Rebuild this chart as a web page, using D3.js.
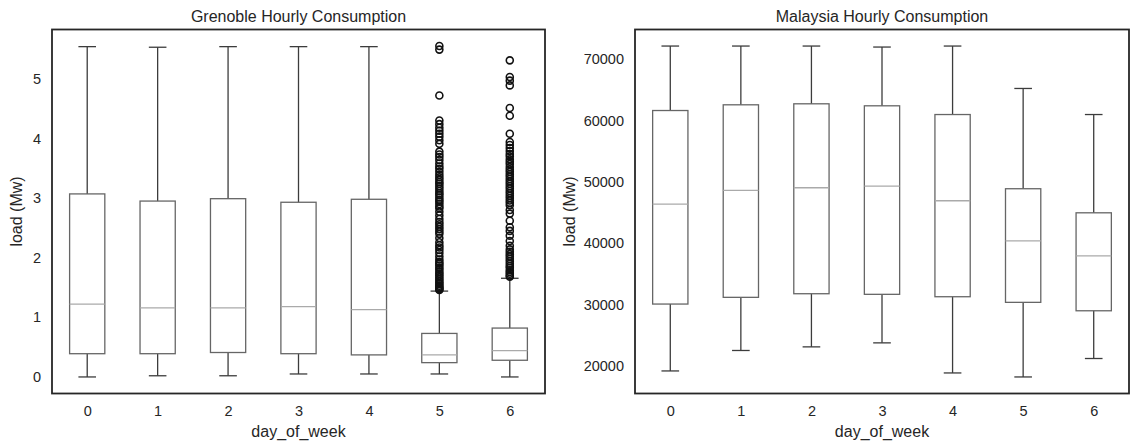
<!DOCTYPE html>
<html>
<head>
<meta charset="utf-8">
<script src="https://cdn.jsdelivr.net/npm/d3@7"></script>
<style>
  body { margin: 0; background: #fff; }
  text { font-family: "Liberation Sans", Arial, sans-serif; fill: #262626; }
</style>
</head>
<body>
<div id="chart"></div>
<script>
// box stats per day of week
var days = ["0", "1", "2", "3", "4", "5", "6"];

var grenobleLow    = [0.00, 0.02, 0.02, 0.05, 0.05, 0.05, 0.00];
var grenobleQ1     = [0.39, 0.39, 0.41, 0.39, 0.37, 0.24, 0.28];
var grenobleMedian = [1.22, 1.16, 1.16, 1.18, 1.13, 0.37, 0.44];
var grenobleQ3     = [3.07, 2.95, 2.99, 2.93, 2.98, 0.73, 0.82];
var grenobleHigh   = [5.54, 5.53, 5.54, 5.54, 5.54, 1.44, 1.655];

var grenobleOutliers5 = [5.55, 5.49, 4.72, 4.30, 4.24, 4.18, 4.13, 4.08, 4.03, 3.97, 3.91,
  3.78, 3.73, 3.69, 3.64, 3.58, 3.53, 3.49, 3.44, 3.39, 3.35, 3.31, 3.27, 3.24, 3.20,
  3.16, 3.12, 3.08, 3.05, 3.01, 2.97, 2.94, 2.90, 2.86, 2.83, 2.77, 2.71, 2.65, 2.60,
  2.56, 2.52, 2.48, 2.44, 2.40, 2.33, 2.26, 2.21, 2.17, 2.13, 2.08, 2.02, 1.97, 1.93,
  1.90, 1.87, 1.83, 1.80, 1.76, 1.73, 1.70, 1.67, 1.64, 1.61, 1.58, 1.56, 1.53, 1.51,
  1.49, 1.47, 1.46];
var grenobleOutliers6 = [5.31, 5.03, 4.97, 4.89, 4.51, 4.38, 4.08, 3.94, 3.89, 3.84,
  3.79, 3.74, 3.70, 3.65, 3.61, 3.57, 3.52, 3.48, 3.44, 3.40, 3.36, 3.32, 3.28, 3.24,
  3.20, 3.16, 3.12, 3.08, 3.04, 3.00, 2.96, 2.92, 2.88, 2.80, 2.74, 2.62, 2.51, 2.45,
  2.37, 2.28, 2.20, 2.14, 2.10, 2.06, 2.02, 1.98, 1.94, 1.90, 1.86, 1.83, 1.79, 1.76,
  1.73, 1.70, 1.68];

var malaysiaLow    = [19183, 22516, 23105, 23758, 18856, 18203, 21209];
var malaysiaQ1     = [30082, 31176, 31765, 31667, 31275, 30360, 28987];
var malaysiaMedian = [46373, 48595, 49036, 49314, 46912, 40376, 37925];
var malaysiaQ3     = [61618, 62549, 62712, 62386, 60964, 48873, 44951];
var malaysiaHigh   = [72124, 72124, 72124, 71961, 72124, 65212, 60964];

var grenobleTicks = [0, 1, 2, 3, 4, 5];
var malaysiaTicks = [20000, 30000, 40000, 50000, 60000, 70000];

var svgWidth = 1135;
var svgHeight = 441;

var svg = d3.select("#chart")
  .append("svg")
  .attr("width", svgWidth)
  .attr("height", svgHeight);

function buildBoxes(low, q1, med, q3, high, outliers) {
  return days.map(function(d, i) {
    return { day: d, low: low[i], q1: q1[i], med: med[i], q3: q3[i], high: high[i],
             outliers: outliers[d] || [] };
  });
}

function drawPanel(opts) {
  var left = opts.left, right = opts.right, top = 29.5, bottom = 393.5;
  var g = svg.append("g");

  // y domain with 5% margin, the way matplotlib pads it
  var allVals = [];
  opts.boxes.forEach(function(b) {
    allVals.push(b.low, b.high);
    b.outliers.forEach(function(v) { allVals.push(v); });
  });
  var lo = d3.min(allVals), hi = d3.max(allVals);
  var pad = (hi - lo) * 0.05;

  var x = d3.scalePoint().domain(days).range([left, right]).padding(0.5);
  var y = d3.scaleLinear().domain([lo - pad, hi + pad]).range([bottom, top]);
  var step = x.step();
  var boxW = step * 0.5;
  var capW = step * 0.25;

  // axes (no tick marks in this style)
  var yAxis = g.append("g")
    .attr("transform", "translate(" + left + ",0)")
    .call(d3.axisLeft(y).tickValues(opts.ticks).tickSize(0).tickPadding(11).tickFormat(d3.format("d")));
  yAxis.select(".domain").remove();
  yAxis.selectAll("text").style("font-size", "14.5px").attr("fill", "#262626");

  var xAxis = g.append("g")
    .attr("transform", "translate(0," + bottom + ")")
    .call(d3.axisBottom(x).tickSize(0).tickPadding(12));
  xAxis.select(".domain").remove();
  xAxis.selectAll("text").style("font-size", "14.5px").attr("fill", "#262626");

  var boxes = g.selectAll(".box")
    .data(opts.boxes)
    .enter()
    .append("g");

  // whiskers
  boxes.append("line")
    .attr("x1", d => x(d.day)).attr("x2", d => x(d.day))
    .attr("y1", d => y(d.q3)).attr("y2", d => y(d.high))
    .attr("stroke", "#3c3c3c").attr("stroke-width", 1.3);
  boxes.append("line")
    .attr("x1", d => x(d.day)).attr("x2", d => x(d.day))
    .attr("y1", d => y(d.q1)).attr("y2", d => y(d.low))
    .attr("stroke", "#3c3c3c").attr("stroke-width", 1.3);

  // caps
  boxes.append("line")
    .attr("x1", d => x(d.day) - capW / 2).attr("x2", d => x(d.day) + capW / 2)
    .attr("y1", d => y(d.high)).attr("y2", d => y(d.high))
    .attr("stroke", "#3c3c3c").attr("stroke-width", 1.3);
  boxes.append("line")
    .attr("x1", d => x(d.day) - capW / 2).attr("x2", d => x(d.day) + capW / 2)
    .attr("y1", d => y(d.low)).attr("y2", d => y(d.low))
    .attr("stroke", "#3c3c3c").attr("stroke-width", 1.3);

  // boxes
  boxes.append("rect")
    .attr("x", d => x(d.day) - boxW / 2)
    .attr("width", boxW)
    .attr("y", d => y(d.q3))
    .attr("height", d => y(d.q1) - y(d.q3))
    .attr("fill", "none")
    .attr("stroke", "#666")
    .attr("stroke-width", 1.3);

  // medians
  boxes.append("line")
    .attr("x1", d => x(d.day) - boxW / 2).attr("x2", d => x(d.day) + boxW / 2)
    .attr("y1", d => y(d.med)).attr("y2", d => y(d.med))
    .attr("stroke", "#aaa").attr("stroke-width", 1.3);

  // fliers
  boxes.each(function(b) {
    d3.select(this).selectAll("circle")
      .data(b.outliers)
      .enter()
      .append("circle")
      .attr("cx", x(b.day))
      .attr("cy", v => y(v))
      .attr("r", 3.5)
      .attr("fill", "none")
      .attr("stroke", "#111")
      .attr("stroke-width", 1.6);
  });

  // frame
  g.append("rect")
    .attr("x", left).attr("y", top)
    .attr("width", right - left).attr("height", bottom - top)
    .attr("fill", "none")
    .attr("stroke", "#262626")
    .attr("stroke-width", 1.8);

  // labels
  g.append("text")
    .attr("x", (left + right) / 2).attr("y", 22)
    .attr("text-anchor", "middle")
    .style("font-size", "16px")
    .text(opts.title);

  g.append("text")
    .attr("x", (left + right) / 2).attr("y", 437)
    .attr("text-anchor", "middle")
    .style("font-size", "16px")
    .text("day_of_week");

  g.append("text")
    .attr("transform", "translate(" + opts.ylabelX + "," + ((top + bottom) / 2) + ") rotate(-90)")
    .attr("text-anchor", "middle")
    .style("font-size", "16px")
    .text("load (Mw)");
}

drawPanel({
  title: "Grenoble Hourly Consumption",
  left: 52, right: 545, ylabelX: 22,
  ticks: grenobleTicks,
  boxes: buildBoxes(grenobleLow, grenobleQ1, grenobleMedian, grenobleQ3, grenobleHigh,
    { "5": grenobleOutliers5, "6": grenobleOutliers6 })
});

drawPanel({
  title: "Malaysia Hourly Consumption",
  left: 635, right: 1129, ylabelX: 575,
  ticks: malaysiaTicks,
  boxes: buildBoxes(malaysiaLow, malaysiaQ1, malaysiaMedian, malaysiaQ3, malaysiaHigh, {})
});
</script>
</body>
</html>
